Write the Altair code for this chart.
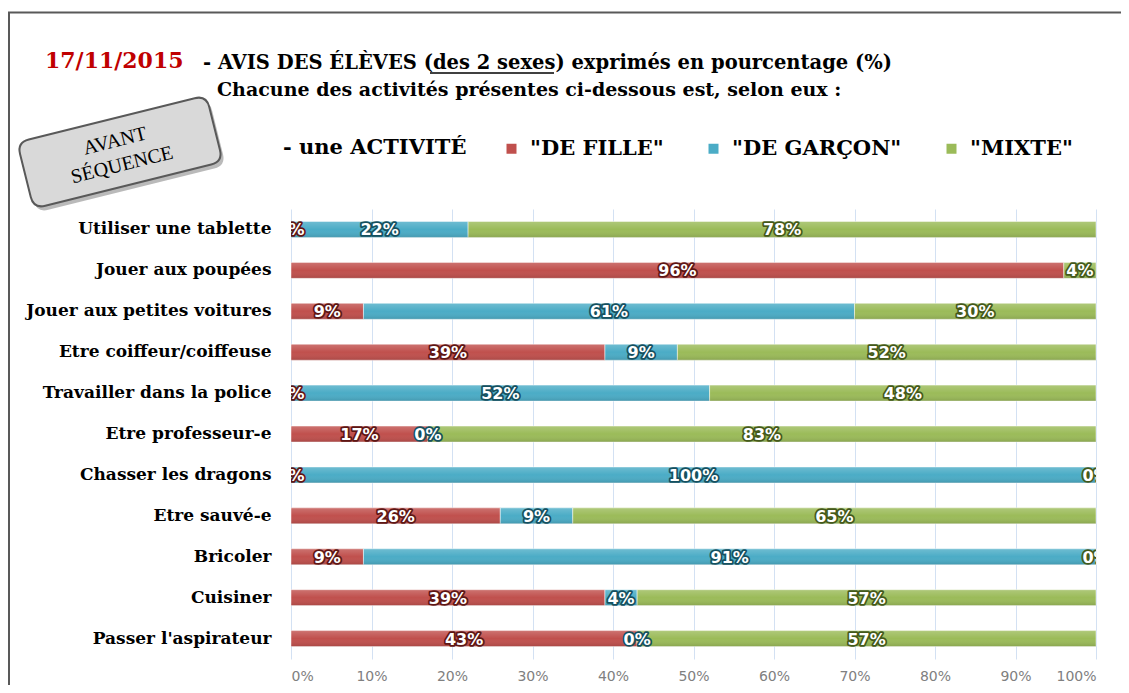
import altair as alt
import pandas as pd

activities = ["Utiliser une tablette", "Jouer aux poupées", "Jouer aux petites voitures",
              "Etre coiffeur/coiffeuse", "Travailler dans la police", "Etre professeur-e",
              "Chasser les dragons", "Etre sauvé-e", "Bricoler", "Cuisiner",
              "Passer l'aspirateur"]
series = ['"DE FILLE"', '"DE GARÇON"', '"MIXTE"']
fille = [0, 96, 9, 39, 0, 17, 0, 26, 9, 39, 43]
garcon = [22, None, 61, 9, 52, 0, 100, 9, 91, 4, 0]
mixte = [78, 4, 30, 52, 48, 83, 0, 65, 0, 57, 57]
colors = ["#c0504d", "#4bacc6", "#9bbb59"]
outline = ["#5e1614", "#15505f", "#44591a"]
x_ticks = list(range(0, 101, 10))

rows = []
for i, a in enumerate(activities):
    for j, (s, vals) in enumerate(zip(series, [fille, garcon, mixte])):
        v = vals[i]
        if v is None:
            continue
        rows.append({"activity": a, "series": s, "order": j, "value": v})
df = pd.DataFrame(rows)

base = alt.Chart(df).transform_stack(
    stack="value", groupby=["activity"], as_=["x0", "x1"],
    sort=[alt.SortField("order", order="ascending")]
).transform_calculate(mid="(datum.x0 + datum.x1) / 2", label="datum.value + '%'")

yenc = alt.Y("activity:N", sort=activities, title=None,
             scale=alt.Scale(paddingInner=0.61, paddingOuter=0.305),
             axis=alt.Axis(labelFont="DejaVu Serif", labelFontWeight="bold", labelFontSize=17,
                           labelColor="black", labelPadding=20, domain=False, ticks=False,
                           labelLimit=400, grid=False))
xscale = alt.Scale(domain=[0, 100], nice=False, zero=True)
xenc = alt.X("x0:Q", scale=xscale, title=None,
             axis=alt.Axis(values=x_ticks, labelExpr="datum.value + '%'", grid=True,
                           gridColor="#d3e1f3", gridWidth=1, domain=False, ticks=False,
                           labelFont="DejaVu Sans", labelFontSize=14, labelColor="#808080",
                           labelPadding=10))

bars = base.mark_bar(stroke="white", strokeWidth=0.7, strokeOpacity=0.7).encode(
    x=xenc, x2="x1:Q", y=yenc,
    color=alt.Color("series:N", scale=alt.Scale(domain=series, range=colors),
                    legend=alt.Legend(title="- une ACTIVITÉ", titleOrient="left", orient="none",
                                      direction="horizontal", legendX=-8, legendY=-71,
                                      titleFont="DejaVu Serif", titleFontSize=21,
                                      titleFontWeight="bold", titleColor="black", titlePadding=34,
                                      titleLimit=500,
                                      labelFont="DejaVu Serif", labelFontSize=21,
                                      labelFontWeight="bold", labelColor="black",
                                      symbolType="square", symbolSize=100, symbolStrokeWidth=0,
                                      symbolOpacity=1, columnPadding=39, labelOffset=8,
                                      labelLimit=400)))

grad = alt.LinearGradient(gradient="linear", x1=0, y1=0, x2=0, y2=1, stops=[
    alt.GradientStop(offset=0, color="rgba(255,255,255,0.2)"),
    alt.GradientStop(offset=0.5, color="rgba(255,255,255,0)"),
    alt.GradientStop(offset=1, color="rgba(0,0,0,0.12)")])
overlay = base.mark_bar(color=grad).encode(x="x0:Q", x2="x1:Q", y=yenc)

lab_out = base.mark_text(font="DejaVu Sans", fontWeight="bold", fontSize=16, strokeWidth=3.5,
                         strokeJoin="round", clip=True, baseline="middle", dy=1,
                         fill="white").encode(
    x="mid:Q", y=yenc, text="label:N",
    stroke=alt.Stroke("series:N", scale=alt.Scale(domain=series, range=outline), legend=None))
lab_in = base.mark_text(font="DejaVu Sans", fontWeight="bold", fontSize=16, clip=True,
                        baseline="middle", dy=1, fill="white").encode(
    x="mid:Q", y=yenc, text="label:N")

deco = alt.Chart(pd.DataFrame({"d": [0]}))

date_t = deco.mark_text(text="17/11/2015", font="DejaVu Serif", fontWeight="bold", fontSize=22,
                        color="#c00000", align="left", baseline="alphabetic").encode(
    x=alt.value(45 - 291), y=alt.value(68 - 209))
title1 = deco.mark_text(text="- AVIS DES ÉLÈVES (des 2 sexes) exprimés en pourcentage (%)",
                        font="DejaVu Serif", fontWeight="bold", fontSize=19.5, color="black",
                        align="left", baseline="alphabetic").encode(
    x=alt.value(203 - 291), y=alt.value(69 - 209))
underline = deco.mark_rule(color="black", strokeWidth=1.3).encode(
    x=alt.value(430 - 291), x2=alt.value(554 - 291), y=alt.value(73 - 209))
title2 = deco.mark_text(text="Chacune des activités présentes ci-dessous est, selon eux :",
                        font="DejaVu Serif", fontWeight="bold", fontSize=19, color="black",
                        align="left", baseline="alphabetic").encode(
    x=alt.value(217 - 291), y=alt.value(96 - 209))

box_path = ("M -0.877 -0.35 L 0.877 -0.35 Q 1 -0.35 1 -0.227 L 1 0.227 Q 1 0.35 0.877 0.35 "
            "L -0.877 0.35 Q -1 0.35 -1 0.227 L -1 -0.227 Q -1 -0.35 -0.877 -0.35 Z")
shadow = deco.mark_point(shape=box_path, size=38025, angle=346, filled=True, fill="#8c8c8c",
                         strokeWidth=0, opacity=0.6).encode(
    x=alt.value(120 - 291 + 3), y=alt.value(152 - 209 + 4))
box = deco.mark_point(shape=box_path, size=38025, angle=346, filled=True, fill="#d9d9d9",
                      stroke="#595959", strokeWidth=2, opacity=1, fillOpacity=1).encode(
    x=alt.value(120 - 291), y=alt.value(152 - 209))
avant = deco.mark_text(text="AVANT", font="Liberation Serif", fontSize=20, angle=346,
                       color="black", align="center", baseline="middle").encode(
    x=alt.value(115 - 291), y=alt.value(141 - 209))
sequence = deco.mark_text(text="SÉQUENCE", font="Liberation Serif", fontSize=20, angle=346,
                          color="black", align="center", baseline="middle").encode(
    x=alt.value(122 - 291), y=alt.value(165 - 209))

border_top = deco.mark_rule(color="#595959", strokeWidth=2).encode(
    x=alt.value(-283), x2=alt.value(830), y=alt.value(-196.5))
border_left = deco.mark_rule(color="#595959", strokeWidth=2).encode(
    x=alt.value(-282), y=alt.value(-197), y2=alt.value(480))

chart = alt.layer(
    bars, overlay, lab_out, lab_in,
    date_t, title1, underline, title2, shadow, box, avant, sequence,
    border_top, border_left
).resolve_scale(color="independent").properties(
    width=805, height=450,
    padding={"left": 283, "top": 201, "right": 25, "bottom": 26},
    autosize=alt.AutoSizeParams(type="none")
).configure(background="white", view=alt.ViewConfig(stroke=None))

chart.save("out.html", embed_options={"renderer": "svg", "actions": False})
